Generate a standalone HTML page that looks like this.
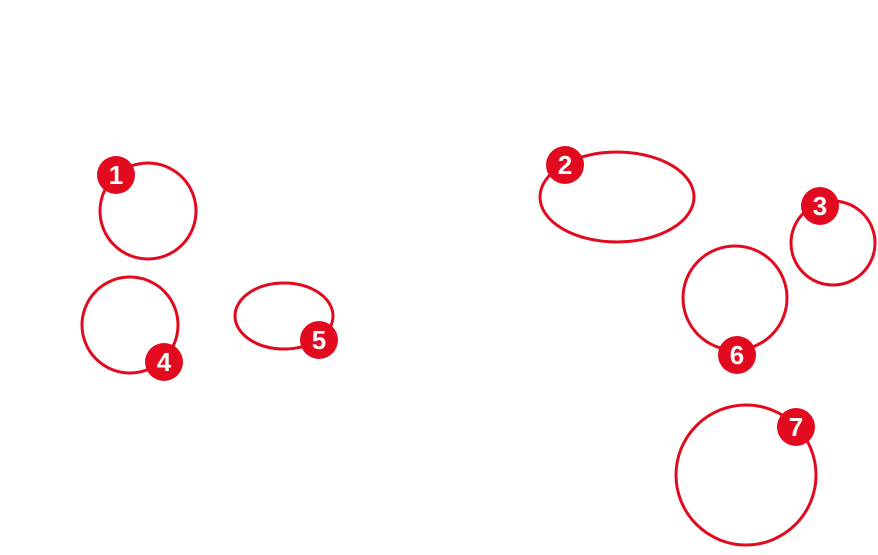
<!DOCTYPE html>
<html><head><style>html,body{margin:0;padding:0;background:#fff}</style></head><body>
<svg width="878" height="550" xmlns="http://www.w3.org/2000/svg">
<g fill="none" stroke="#e20a1f" stroke-width="3">
<circle cx="148" cy="211" r="48"/>
<ellipse cx="617" cy="197" rx="77" ry="45"/>
<circle cx="833" cy="243" r="42"/>
<circle cx="130" cy="325" r="48"/>
<ellipse cx="284" cy="316" rx="49" ry="33"/>
<circle cx="735" cy="298" r="52"/>
<circle cx="746" cy="475" r="70"/>
</g>
<g fill="#e20a1f">
<circle cx="116" cy="175" r="19"/>
<circle cx="565" cy="165" r="19"/>
<circle cx="820" cy="206" r="19"/>
<circle cx="164" cy="362" r="19"/>
<circle cx="319" cy="340" r="19"/>
<circle cx="737" cy="355" r="19"/>
<circle cx="796" cy="427" r="19"/>
</g>
<g fill="#fff" font-family="Liberation Sans, sans-serif" font-weight="bold" font-size="26" text-anchor="middle">
<text x="116" y="184">1</text>
<text x="565" y="174">2</text>
<text x="820" y="215">3</text>
<text x="164" y="371">4</text>
<text x="319" y="349">5</text>
<text x="737" y="364">6</text>
<text x="796" y="436">7</text>
</g>
</svg>
</body></html>
